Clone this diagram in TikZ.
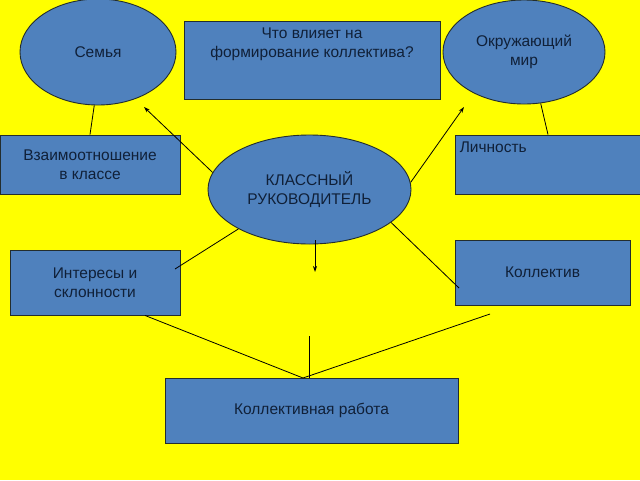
\documentclass[tikz,border=0pt]{standalone}
\usepackage{fontspec}
\setmainfont{Liberation Sans}
\usetikzlibrary{shapes.geometric,arrows.meta,calc}
\definecolor{bgyellow}{RGB}{255,255,0}
\definecolor{boxblue}{RGB}{79,129,189}
\definecolor{boxline}{RGB}{35,45,45}
\definecolor{txt}{RGB}{16,32,56}
\tikzset{
  base/.style={draw=boxline, line width=0.9pt, fill=boxblue, text=txt, align=center, inner sep=0pt,
     font=\fontsize{15.5}{19.5}\selectfont},
  oval/.style={base, ellipse},
  rbox/.style={base, rectangle},
  conn/.style={draw=black, line width=0.8pt},
  arr/.style={conn, -{Stealth[length=6pt,width=4pt]}},
  plain/.style={text=txt, align=center, inner sep=0pt, font=\fontsize{15.5}{19.5}\selectfont},
}
\begin{document}
\begin{tikzpicture}[x=1pt,y=-1pt]
\fill[bgyellow] (0,0) rectangle (640,480);
\useasboundingbox (0,0) rectangle (640,480);

% nodes
\node[oval, minimum width=156, minimum height=106] (semya) at (98,52) {Семья};
\node[rbox, minimum width=256, minimum height=78] (qbox) at (312,60) {};
\node[plain, anchor=north] (qtext) at ($(qbox.north)+(0,7)$) {Что влияет на\\формирование коллектива?};
\node[oval, minimum width=162, minimum height=104] (okr) at (524,52) {Окружающий\\мир};
\node[rbox, minimum width=180, minimum height=59] (vz) at (90,164.5) {Взаимоотношение\\в классе};
\node[rbox, minimum width=185, minimum height=59] (lich) at (547.5,164.5) {};
\node[plain, anchor=north west] (lichtext) at ($(lich.north west)+(5,7)$) {Личность};
\node[oval, minimum width=203, minimum height=109] (kl) at (309.5,189.5) {КЛАССНЫЙ\\РУКОВОДИТЕЛЬ};
\node[rbox, minimum width=170, minimum height=65] (int) at (95,282.5) {Интересы и\\склонности};
\node[rbox, minimum width=175, minimum height=65] (kol) at (542.5,272.5) {Коллектив};
\node[rbox, minimum width=293, minimum height=65] (kr) at (311.5,410.5) {Коллективная работа};

% free ends
\coordinate (a1) at (144,107);
\coordinate (a2) at (464,107);
\coordinate (a3) at (315,272);
\coordinate (ie) at (175,269);
\coordinate (ke) at (459,288);
\coordinate (m) at (303,378);
\coordinate (vs) at (309,336);
\coordinate (ks) at (490,314);

% connectors
\draw[conn] (semya.-94) -- (vz.north);
\draw[conn] (okr.-72) -- ($(lich.north)+(0.5,0)$);
\draw[arr] (kl.170) -- (a1);
\draw[arr] (kl.4) -- (a2);
\draw[conn] (kl.209) -- (ie);
\draw[arr] ($(kl.south)+(5.5,-4)$) -- (a3);
\draw[conn] (kl.-22) -- (ke);
\draw[conn] ($(int.south)+(50,0)$) -- (m);
\draw[conn] (vs) -- ($(kr.north)+(-2.5,0)$);
\draw[conn] (ks) -- (m);
\end{tikzpicture}
\end{document}
